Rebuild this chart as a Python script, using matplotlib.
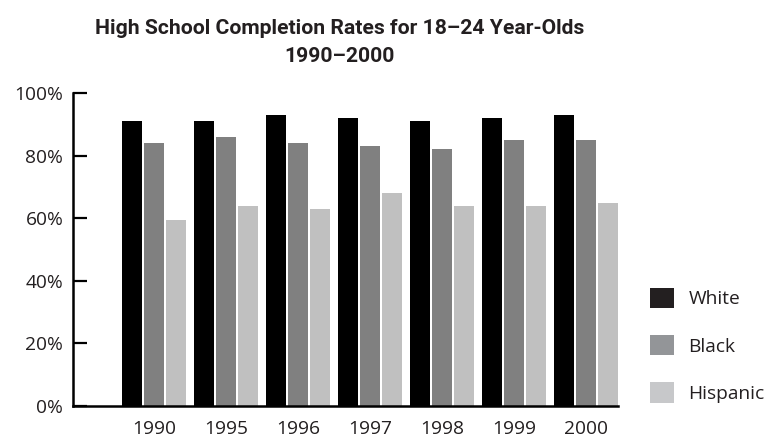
import numpy as np
import matplotlib.pyplot as plt
from matplotlib.patches import Patch

# Data
years = ['1990', '1995', '1996', '1997', '1998', '1999', '2000']
white = [91, 91, 93, 92, 91, 92, 93]
black = [84, 86, 84, 83, 82, 85, 85]
hispanic = [59.5, 64, 63, 68, 64, 64, 65]

series = ['White', 'Black', 'Hispanic']
bar_colors = ['#000000', '#808080', '#c0c0c0']
legend_colors = ['#231f20', '#939598', '#c7c8ca']
text_color = '#231f20'

plt.rcParams['font.family'] = ['Open Sans', 'DejaVu Sans']

fig = plt.figure(figsize=(7.71, 4.40), dpi=100)
W, H = 771, 440
# axes box in pixels: left 73, right 618, bottom 406, top 93
ax = fig.add_axes([73 / W, (H - 406) / H, (618 - 73) / W, (406 - 93) / H])

x = np.arange(len(years))
width = 20 / 72
step = 22 / 72
for i, (vals, c) in enumerate(zip([white, black, hispanic], bar_colors)):
    ax.bar(x + (i - 1) * step, vals, width=width, color=c, zorder=2)

ax.set_xlim(-1.125, 6.444)
ax.set_ylim(0, 100)
ax.set_yticks([0, 20, 40, 60, 80, 100])
ax.set_yticklabels([f'{v}%' for v in [0, 20, 40, 60, 80, 100]])
ax.set_xticks(x)
ax.set_xticklabels(years)

for s in ['top', 'right']:
    ax.spines[s].set_visible(False)
for s in ['left', 'bottom']:
    ax.spines[s].set_linewidth(1.8)
    ax.spines[s].set_color('black')

ax.tick_params(axis='y', direction='in', length=10, width=1.6, pad=7,
               labelsize=13.8, labelcolor=text_color)
ax.tick_params(axis='x', length=0, pad=10, labelsize=13.8, labelcolor=text_color)

title_font = ['Roboto', 'Open Sans', 'DejaVu Sans']
fig.text(340 / W, 1 - 29 / H, 'High School Completion Rates for 18\u201324 Year-Olds',
         ha='center', va='center', fontsize=15.2, fontweight='bold',
         color=text_color, family=title_font)
fig.text(340 / W, 1 - 56 / H, '1990\u20132000',
         ha='center', va='center', fontsize=15.2, fontweight='bold',
         color=text_color, family=title_font)

handles = [Patch(facecolor=c, edgecolor='none', label=l)
           for c, l in zip(legend_colors, series)]
fig.legend(handles=handles, loc='lower left',
           bbox_to_anchor=(650 / W, (H - 403) / H),
           frameon=False, fontsize=13.8, labelcolor=text_color,
           handlelength=1.25, handleheight=1.25, handletextpad=0.75,
           labelspacing=1.4, borderpad=0, borderaxespad=0)

plt.savefig('out.png', dpi=100)
